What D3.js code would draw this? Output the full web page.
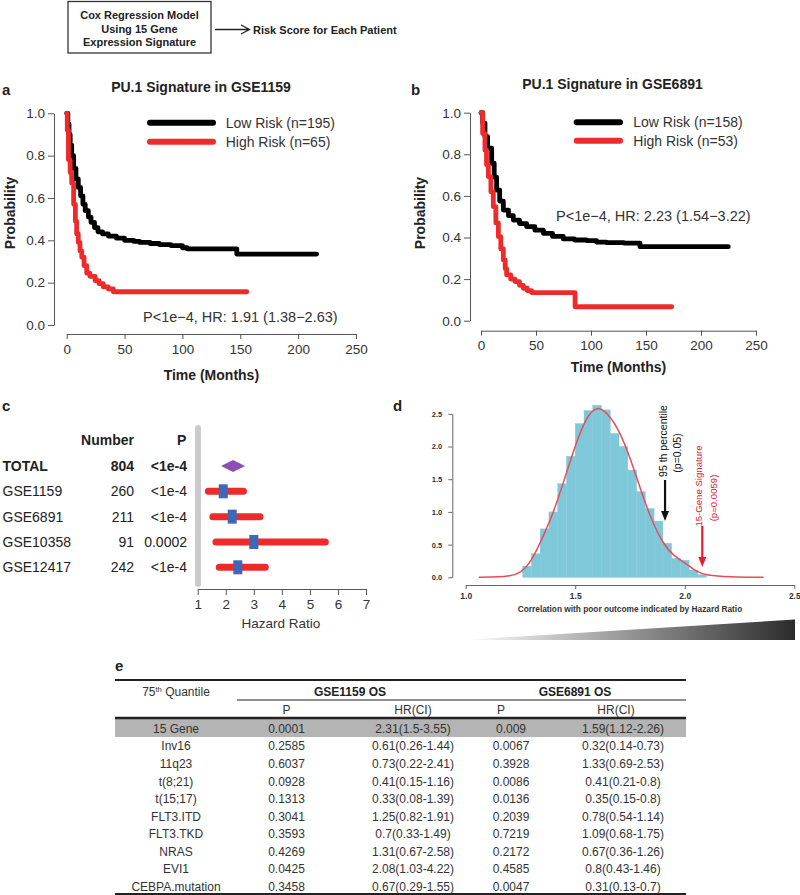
<!DOCTYPE html>
<html><head><meta charset="utf-8">
<script src="https://cdn.jsdelivr.net/npm/d3@7"></script>
<style>body{margin:0;background:#fff}svg{display:block}text{font-family:"Liberation Sans",Arial,Helvetica,sans-serif}</style>
</head><body>
<svg id="c" width="800" height="895"></svg>
<script>
// ---------------- DATA ----------------
// Panel a: GSE1159 Kaplan-Meier (time in months, survival probability)
const aLowT  = [0,1,2,3,4.3,6,8,10,12,14,16,18.7,21,24,27,31,36,43,50,58,63,72,80,90,100,104,147,216];
const aLowS  = [1,0.95,0.9,0.85,0.8,0.74,0.69,0.65,0.61,0.57,0.54,0.51,0.485,0.46,0.44,0.43,0.42,0.41,0.40,0.395,0.39,0.385,0.38,0.375,0.365,0.36,0.335,0.335];
const aHighT = [0,0.5,1.5,3,4.3,6,7.5,8.6,10,11.5,13,15,17.3,20,24.5,28,31.6,36,40.3,155.6];
const aHighS = [1,0.92,0.78,0.72,0.67,0.57,0.49,0.43,0.39,0.35,0.32,0.28,0.245,0.23,0.21,0.195,0.18,0.17,0.157,0.157];
// Panel b: GSE6891
const bLowT  = [0,1.5,3.6,6,9.7,12,14.2,17,20.3,25,29.4,35,41.5,49,56.7,65,74.8,85,96,105,114,130,144.5,224.8];
const bLowS  = [1,0.95,0.885,0.83,0.757,0.69,0.628,0.575,0.532,0.505,0.484,0.467,0.452,0.435,0.42,0.405,0.393,0.388,0.385,0.378,0.375,0.373,0.356,0.356];
const bHighT = [0,1.5,3.6,5,6.7,9,11.2,13.5,15.8,18,20.3,22,23.3,27,30.9,35,38.5,42,46,85.5,173.4];
const bHighS = [1,0.9,0.82,0.75,0.692,0.62,0.548,0.47,0.404,0.345,0.292,0.25,0.22,0.2,0.188,0.17,0.156,0.145,0.135,0.067,0.067];
const kmYTicks = [0,0.2,0.4,0.6,0.8,1.0];
const kmXTicks = [0,50,100,150,200,250];

// Panel c: forest plot
const forestLabels = ["TOTAL","GSE1159","GSE6891","GSE10358","GSE12417"];
const forestN  = [804,260,211,91,242];
const forestP  = ["<1e-4","<1e-4","<1e-4","0.0002","<1e-4"];
const forestHR = [2.26,1.91,2.23,3.0,2.43];
const forestLo = [1.83,1.38,1.54,1.65,1.77];
const forestHi = [2.69,2.63,3.22,5.55,3.41];
const forestTicks = [1,2,3,4,5,6,7];

// Panel d: histogram of hazard ratios and density
const histX = [1.28,1.32,1.36,1.40,1.44,1.48,1.52,1.56,1.60,1.64,1.68,1.72,1.76,1.80,1.84,1.88,1.92,1.96,2.00,2.04,2.08];
const histY = [0.17,0.36,0.74,1.0,1.43,1.85,2.35,2.55,2.63,2.56,2.2,2.0,1.64,1.31,1.05,0.86,0.52,0.29,0.26,0.11,0.04];
const densX = [1.06,1.15,1.2,1.25,1.3,1.35,1.4,1.45,1.5,1.55,1.6,1.65,1.7,1.75,1.8,1.85,1.9,1.95,2.0,2.05,2.1,2.2,2.36];
const densY = [0.0,0.005,0.02,0.06,0.24,0.6,0.98,1.49,2.02,2.45,2.63,2.5,2.25,1.84,1.32,0.86,0.52,0.32,0.23,0.09,0.03,0.005,0.0];
const dYTicks = [0,0.5,1.0,1.5,2.0,2.5];
const dXTicks = [1.0,1.5,2.0,2.5];

// Panel e: table
const tblRows = ["15 Gene","Inv16","11q23","t(8;21)","t(15;17)","FLT3.ITD","FLT3.TKD","NRAS","EVI1","CEBPA.mutation"];
const p1159   = ["0.0001","0.2585","0.6037","0.0928","0.1313","0.3041","0.3593","0.4269","0.0425","0.3458"];
const hr1159  = ["2.31(1.5-3.55)","0.61(0.26-1.44)","0.73(0.22-2.41)","0.41(0.15-1.16)","0.33(0.08-1.39)","1.25(0.82-1.91)","0.7(0.33-1.49)","1.31(0.67-2.58)","2.08(1.03-4.22)","0.67(0.29-1.55)"];
const p6891   = ["0.009","0.0067","0.3928","0.0086","0.0136","0.2039","0.7219","0.2172","0.4585","0.0047"];
const hr6891  = ["1.59(1.12-2.26)","0.32(0.14-0.73)","1.33(0.69-2.53)","0.41(0.21-0.8)","0.35(0.15-0.8)","0.78(0.54-1.14)","1.09(0.68-1.75)","0.67(0.36-1.26)","0.8(0.43-1.46)","0.31(0.13-0.7)"];

// ---------------- DRAW ----------------
const svg = d3.select("#c");
const SERIF = '"Liberation Serif","DejaVu Serif",serif';
const RED = "#ee2b2b";

function txt(g, x, y, s, o = {}) {
  const t = g.append("text").attr("x", x).attr("y", y).text(s)
    .attr("font-size", o.size || 12).attr("fill", o.fill || "#222")
    .attr("text-anchor", o.anchor || "start")
    .attr("font-weight", o.bold ? "bold" : "normal");
  if (o.family) t.attr("font-family", o.family);
  if (o.rotate) t.attr("transform", `rotate(${o.rotate},${x},${y})`);
  return t;
}
function styleAxis(g, size, color, bold) {
  g.selectAll("path,line").attr("stroke", color).attr("stroke-width", 1);
  g.selectAll("text").attr("font-size", size).attr("fill", "#333")
    .attr("font-family", '"Liberation Sans",Arial,sans-serif')
    .attr("font-weight", bold ? "bold" : "normal");
}

// Top schematic
svg.append("rect").attr("x", 68).attr("y", 1.5).attr("width", 143).attr("height", 51.5)
  .attr("fill", "none").attr("stroke", "#333").attr("stroke-width", 1.3);
txt(svg, 139.5, 19, "Cox Regression Model", {bold: true, size: 11, anchor: "middle"});
txt(svg, 139.5, 32.5, "Using 15 Gene", {bold: true, size: 11, anchor: "middle"});
txt(svg, 139.5, 46, "Expression Signature", {bold: true, size: 11, anchor: "middle"});
svg.append("path").attr("d", "M215,29.5H249.5M241,25L249.5,29.5L241,34")
  .attr("fill", "none").attr("stroke", "#222").attr("stroke-width", 1.3);
txt(svg, 253, 33.5, "Risk Score for Each Patient", {bold: true, size: 11});

// Kaplan-Meier panels
function km(c) {
  const g = svg.append("g");
  const x = d3.scaleLinear().domain([0, 250]).range([c.x0, c.x1]);
  const y = d3.scaleLinear().domain([0, 1]).range([c.y0, c.y1]);
  const ya = g.append("g").attr("transform", `translate(${c.ax},0)`)
    .call(d3.axisLeft(y).tickValues(kmYTicks).tickFormat(d3.format(".1f")).tickSize(6).tickSizeOuter(0).tickPadding(3));
  styleAxis(ya, 13.5, "#555");
  const xa = g.append("g").attr("transform", `translate(0,${c.ay})`)
    .call(d3.axisBottom(x).tickValues(kmXTicks).tickFormat(d3.format("d")).tickSize(5).tickSizeOuter(0).tickPadding(5));
  styleAxis(xa, 13.5, "#555");
  const line = d3.line().x(d => x(d[0])).y(d => y(d[1])).curve(d3.curveStepAfter);
  const series = [
    {t: c.lowT, s: c.lowS, col: "#000"},
    {t: c.highT, s: c.highS, col: RED}
  ];
  series.forEach(se => {
    g.append("path").datum(se.t.map((t, i) => [t, se.s[i]]))
      .attr("d", line).attr("fill", "none").attr("stroke", se.col)
      .attr("stroke-width", 4.8).attr("stroke-linecap", "round").attr("stroke-linejoin", "round");
  });
  txt(g, c.tx, c.ty, c.title, {bold: true, size: 14, anchor: "middle"});
  txt(g, c.lab[0], c.lab[1], c.letter, {bold: true, size: 15});
  txt(g, (c.x0 + c.x1) / 2, c.xlY, "Time (Months)", {bold: true, size: 14, anchor: "middle"});
  txt(g, c.ylX, 213, "Probability", {bold: true, size: 14, anchor: "middle", rotate: -90});
  // legend
  [[c.lowLab, "#000", c.legY[0]], [c.highLab, RED, c.legY[1]]].forEach(([lab, col, ly]) => {
    g.append("line").attr("x1", c.legX[0]).attr("x2", c.legX[1]).attr("y1", ly).attr("y2", ly)
      .attr("stroke", col).attr("stroke-width", 6).attr("stroke-linecap", "round");
    txt(g, c.legTX, ly + 5, lab, {size: 14, fill: "#333"});
  });
  txt(g, c.px, c.py, c.ptext, {size: 14.5, fill: "#333"});
}
km({x0: 66.7, x1: 356, y0: 325, y1: 113.3, ax: 54, ay: 334,
  lowT: aLowT, lowS: aLowS, highT: aHighT, highS: aHighS,
  title: "PU.1 Signature in GSE1159", tx: 201, ty: 91.5, letter: "a", lab: [2, 95],
  xlY: 380, ylX: 15, legX: [150, 213], legY: [122.7, 141.7], legTX: 225.7,
  lowLab: "Low Risk (n=195)", highLab: "High Risk (n=65)",
  ptext: "P<1e\u22124, HR: 1.91 (1.38\u22122.63)", px: 143, py: 322});
km({x0: 481, x1: 756, y0: 320.7, y1: 112.7, ax: 470, ay: 330.7,
  lowT: bLowT, lowS: bLowS, highT: bHighT, highS: bHighS,
  title: "PU.1 Signature in GSE6891", tx: 612.5, ty: 88.5, letter: "b", lab: [411, 95],
  xlY: 371.5, ylX: 425, legX: [576.7, 620], legY: [122.3, 140.7], legTX: 633.3,
  lowLab: "Low Risk (n=158)", highLab: "High Risk (n=53)",
  ptext: "P<1e\u22124, HR: 2.23 (1.54\u22123.22)", px: 556, py: 220.7});

// Panel c: forest plot
(function () {
  const g = svg.append("g");
  txt(g, 2, 411, "c", {bold: true, size: 15});
  const x = d3.scaleLinear().domain([1, 7]).range([197.7, 366]);
  const rowY = d3.scalePoint().domain(forestLabels).range([466, 567.3]);
  g.append("rect").attr("x", 195).attr("y", 425).attr("width", 6).attr("height", 162)
    .attr("rx", 3).attr("fill", "#cbcbcb");
  txt(g, 107.5, 445, "Number", {bold: true, size: 14, anchor: "middle"});
  txt(g, 181.7, 445, "P", {bold: true, size: 14, anchor: "middle"});
  forestLabels.forEach((lab, i) => {
    const yy = rowY(lab), b = i === 0;
    txt(g, 2.5, yy + 5, lab, {size: 14, bold: b, fill: "#222"});
    txt(g, 134, yy + 5, forestN[i], {size: 14, bold: b, anchor: "end", fill: "#222"});
    txt(g, 187, yy + 5, forestP[i], {size: 14, bold: b, anchor: "end", fill: "#222"});
    if (i === 0) {
      const h = 6;
      g.append("path").attr("d", `M${x(forestLo[i])},${yy}L${x(forestHR[i])},${yy - h}L${x(forestHi[i])},${yy}L${x(forestHR[i])},${yy + h}Z`)
        .attr("fill", "#8e4fb3");
    } else {
      g.append("line").attr("x1", x(forestLo[i])).attr("x2", x(forestHi[i])).attr("y1", yy).attr("y2", yy)
        .attr("stroke", RED).attr("stroke-width", 7).attr("stroke-linecap", "round");
      g.append("rect").attr("x", x(forestHR[i]) - 4.5).attr("y", yy - 7).attr("width", 9).attr("height", 14)
        .attr("fill", "#3d68b5");
    }
  });
  const xa = g.append("g").attr("transform", "translate(0,589)")
    .call(d3.axisBottom(x).tickValues(forestTicks).tickFormat(d3.format("d")).tickSize(6).tickSizeOuter(0).tickPadding(4));
  styleAxis(xa, 13.5, "#555");
  txt(g, 281, 628, "Hazard Ratio", {size: 13.5, anchor: "middle", fill: "#333"});
})();

// Panel d: histogram
(function () {
  const g = svg.append("g");
  txt(g, 393, 411, "d", {bold: true, size: 15});
  const x = d3.scaleLinear().domain([1, 2.5]).range([465.7, 794.3]);
  const y = d3.scaleLinear().domain([0, 2.5]).range([577.3, 413.8]);
  const bw = 0.04;
  g.selectAll("rect.h").data(histX).enter().append("rect")
    .attr("x", d => x(d - bw / 2)).attr("width", x(1 + bw) - x(1))
    .attr("y", (d, i) => y(histY[i])).attr("height", (d, i) => y(0) - y(histY[i]))
    .attr("fill", "#7fc8d9").attr("stroke", "#7fc8d9").attr("stroke-width", 0.4);
  g.append("path").datum(densX.map((d, i) => [d, densY[i]]))
    .attr("d", d3.line().x(d => x(d[0])).y(d => y(d[1])).curve(d3.curveBasis))
    .attr("fill", "none").attr("stroke", "#ea4b58").attr("stroke-width", 1.5);
  const ya = g.append("g").attr("transform", "translate(452.3,0)")
    .call(d3.axisLeft(y).tickValues(dYTicks).tickFormat(d3.format(".1f")).tickSize(4).tickSizeOuter(0).tickPadding(6));
  styleAxis(ya, 7.5, "#666", true);
  const xa = g.append("g").attr("transform", "translate(0,585)")
    .call(d3.axisBottom(x).tickValues(dXTicks).tickFormat(d3.format(".1f")).tickSize(4).tickSizeOuter(0).tickPadding(4));
  styleAxis(xa, 8.5, "#666", true);
  txt(g, 630, 612, "Correlation with poor outcome indicated by Hazard Ratio", {bold: true, size: 8.3, anchor: "middle", fill: "#333"});
  // arrows
  function arrow(xv, y1, y2, col) {
    const xx = x(xv);
    g.append("line").attr("x1", xx).attr("x2", xx).attr("y1", y1).attr("y2", y2 - 8)
      .attr("stroke", col).attr("stroke-width", 2.2);
    g.append("path").attr("d", `M${xx - 4},${y2 - 10}L${xx + 4},${y2 - 10}L${xx},${y2}Z`).attr("fill", col);
  }
  arrow(1.91, 480, 521, "#111");
  arrow(2.08, 526, 567, "#e3202e");
  txt(g, 666.5, 441, "95 th percentile", {size: 10.5, family: SERIF, anchor: "middle", rotate: -90, fill: "#111"});
  txt(g, 680.5, 453, "(p=0.05)", {size: 10.5, family: SERIF, anchor: "middle", rotate: -90, fill: "#111"});
  txt(g, 701.5, 486, "15-Gene Signature", {size: 9.6, family: SERIF, anchor: "middle", rotate: -90, fill: "#e3202e"});
  txt(g, 716.5, 498, "(p=0.0059)", {size: 9.6, family: SERIF, anchor: "middle", rotate: -90, fill: "#e3202e"});
  // gradient wedge
  const grad = svg.append("defs").append("linearGradient").attr("id", "wg")
    .attr("x1", "0").attr("x2", "1").attr("y1", "0").attr("y2", "0");
  grad.append("stop").attr("offset", "0").attr("stop-color", "#ffffff");
  grad.append("stop").attr("offset", "1").attr("stop-color", "#2b2b2b");
  g.append("path").attr("d", "M463,640L795,640L795,619.5Z").attr("fill", "url(#wg)");
})();

// Panel e: table
(function () {
  const g = svg.append("g");
  txt(g, 115, 671, "e", {bold: true, size: 15});
  const L = 115, R = 686;
  const rule = (y, x1, x2, w) => g.append("line").attr("x1", x1).attr("x2", x2).attr("y1", y).attr("y2", y)
    .attr("stroke", "#222").attr("stroke-width", w);
  rule(680, L, R, 2);
  rule(700, 237, R, 1);
  const rowY = d3.scaleLinear().domain([0, tblRows.length - 1]).range([728.5, 886.7]);
  g.append("rect").attr("x", L).attr("y", 718.5).attr("width", R - L).attr("height", 18.5).attr("fill", "#b4b4b4");
  rule(718, L, R, 2.5);
  rule(894, L, R, 2);
  const C = "#333";
  const t75 = txt(g, 176, 696, "75", {size: 12, anchor: "middle", fill: C});
  t75.append("tspan").text("th").attr("font-size", 7.5).attr("dy", -4.5);
  t75.append("tspan").text(" Quantile").attr("dy", 4.5);
  txt(g, 350, 696, "GSE1159 OS", {size: 12, bold: true, anchor: "middle", fill: "#222"});
  txt(g, 575, 696, "GSE6891 OS", {size: 12, bold: true, anchor: "middle", fill: "#222"});
  txt(g, 286.5, 713.5, "P", {size: 12, anchor: "middle", fill: C});
  txt(g, 413, 713.5, "HR(CI)", {size: 12, anchor: "middle", fill: C});
  txt(g, 501, 713.5, "P", {size: 12, anchor: "middle", fill: C});
  txt(g, 616, 713.5, "HR(CI)", {size: 12, anchor: "middle", fill: C});
  tblRows.forEach((r, i) => {
    const yy = rowY(i) + 4.3;
    txt(g, 176, yy, r, {size: 12, anchor: "middle", fill: C});
    txt(g, 286.5, yy, p1159[i], {size: 12, anchor: "middle", fill: C});
    txt(g, 413, yy, hr1159[i], {size: 12, anchor: "middle", fill: C});
    txt(g, 511, yy, p6891[i], {size: 12, anchor: "middle", fill: C});
    txt(g, 623, yy, hr6891[i], {size: 12, anchor: "middle", fill: C});
  });
})();
</script>
</body></html>
